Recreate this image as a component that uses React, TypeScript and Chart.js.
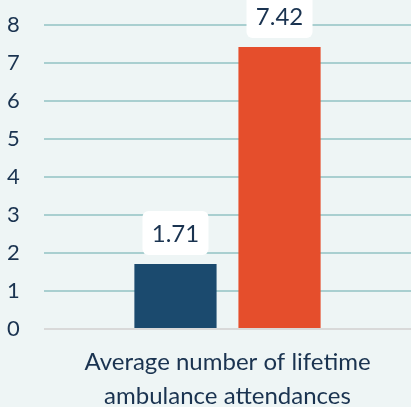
import React, { useEffect, useRef } from "react";
import { Chart, registerables } from "chart.js";

Chart.register(...registerables);

const categories = [["Average number of lifetime", "ambulance attendances"]];
const seriesNames = ["Group A", "Group B"];
const seriesValues = [[1.71], [7.42]];
const seriesColors = ["#1b4a6e", "#e54e2c"];
const yTicks = [0, 1, 2, 3, 4, 5, 6, 7, 8];

const TEXT = "#1a3350";
const FONT = "Lato, 'Noto Sans', sans-serif";

const labelPlugin = {
  id: "boxLabels",
  afterDatasetsDraw(chart: any) {
    const ctx = chart.ctx;
    chart.data.datasets.forEach((ds: any, di: number) => {
      const meta = chart.getDatasetMeta(di);
      meta.data.forEach((bar: any, i: number) => {
        const v = ds.data[i];
        const w = 66, h = 44, gap = 9, r = 6;
        const x = bar.x - w / 2;
        const y = bar.y - gap - h;
        ctx.save();
        ctx.fillStyle = "#ffffff";
        ctx.beginPath();
        ctx.roundRect(x, y, w, h, r);
        ctx.fill();
        ctx.fillStyle = TEXT;
        ctx.font = `24px ${FONT}`;
        ctx.textAlign = "center";
        ctx.textBaseline = "middle";
        ctx.fillText(v.toFixed(2), bar.x, y + h / 2 + 1);
        ctx.restore();
      });
    });
  },
};

export default function App() {
  const ref = useRef<HTMLCanvasElement>(null);
  useEffect(() => {
    const chart = new Chart(ref.current!, {
      type: "bar",
      data: {
        labels: categories as any,
        datasets: seriesValues.map((vals, i) => ({
          label: seriesNames[i],
          data: vals,
          backgroundColor: seriesColors[i],
          categoryPercentage: 0.567,
          barPercentage: 0.79,
        })),
      },
      options: {
        animation: false,
        responsive: false,
        maintainAspectRatio: false,
        layout: { padding: { top: 25, left: 7, right: 0, bottom: 0 } },
        plugins: { legend: { display: false }, tooltip: { enabled: false } },
        scales: {
          x: {
            afterFit: (s: any) => {
              s.height = 78;
            },
            grid: { display: false },
            border: { display: false },
            ticks: {
              color: TEXT,
              font: { family: FONT, size: 24, lineHeight: 1.42 },
              padding: 8,
              maxRotation: 0,
              autoSkip: false,
            },
          },
          y: {
            min: 0,
            max: 8,
            afterFit: (s: any) => {
              s.width = 37;
            },
            afterBuildTicks: (s: any) => {
              s.ticks = yTicks.map((v) => ({ value: v }));
            },
            border: { display: false },
            grid: {
              drawTicks: false,
              lineWidth: 2,
              color: (c: any) => (c.tick && c.tick.value === 0 ? "#d9d9d9" : "#a9cfd0"),
            },
            ticks: {
              color: TEXT,
              font: { family: FONT, size: 22 },
              crossAlign: "far",
              padding: 0,
            },
          },
        },
      },
      plugins: [labelPlugin],
    });
    return () => chart.destroy();
  }, []);
  return (
    <div style={{ position: "fixed", left: 0, top: 0, width: 411, height: 407, background: "#eef5f5" }}>
      <canvas ref={ref} width={411} height={407} style={{ display: "block" }} />
    </div>
  );
}
